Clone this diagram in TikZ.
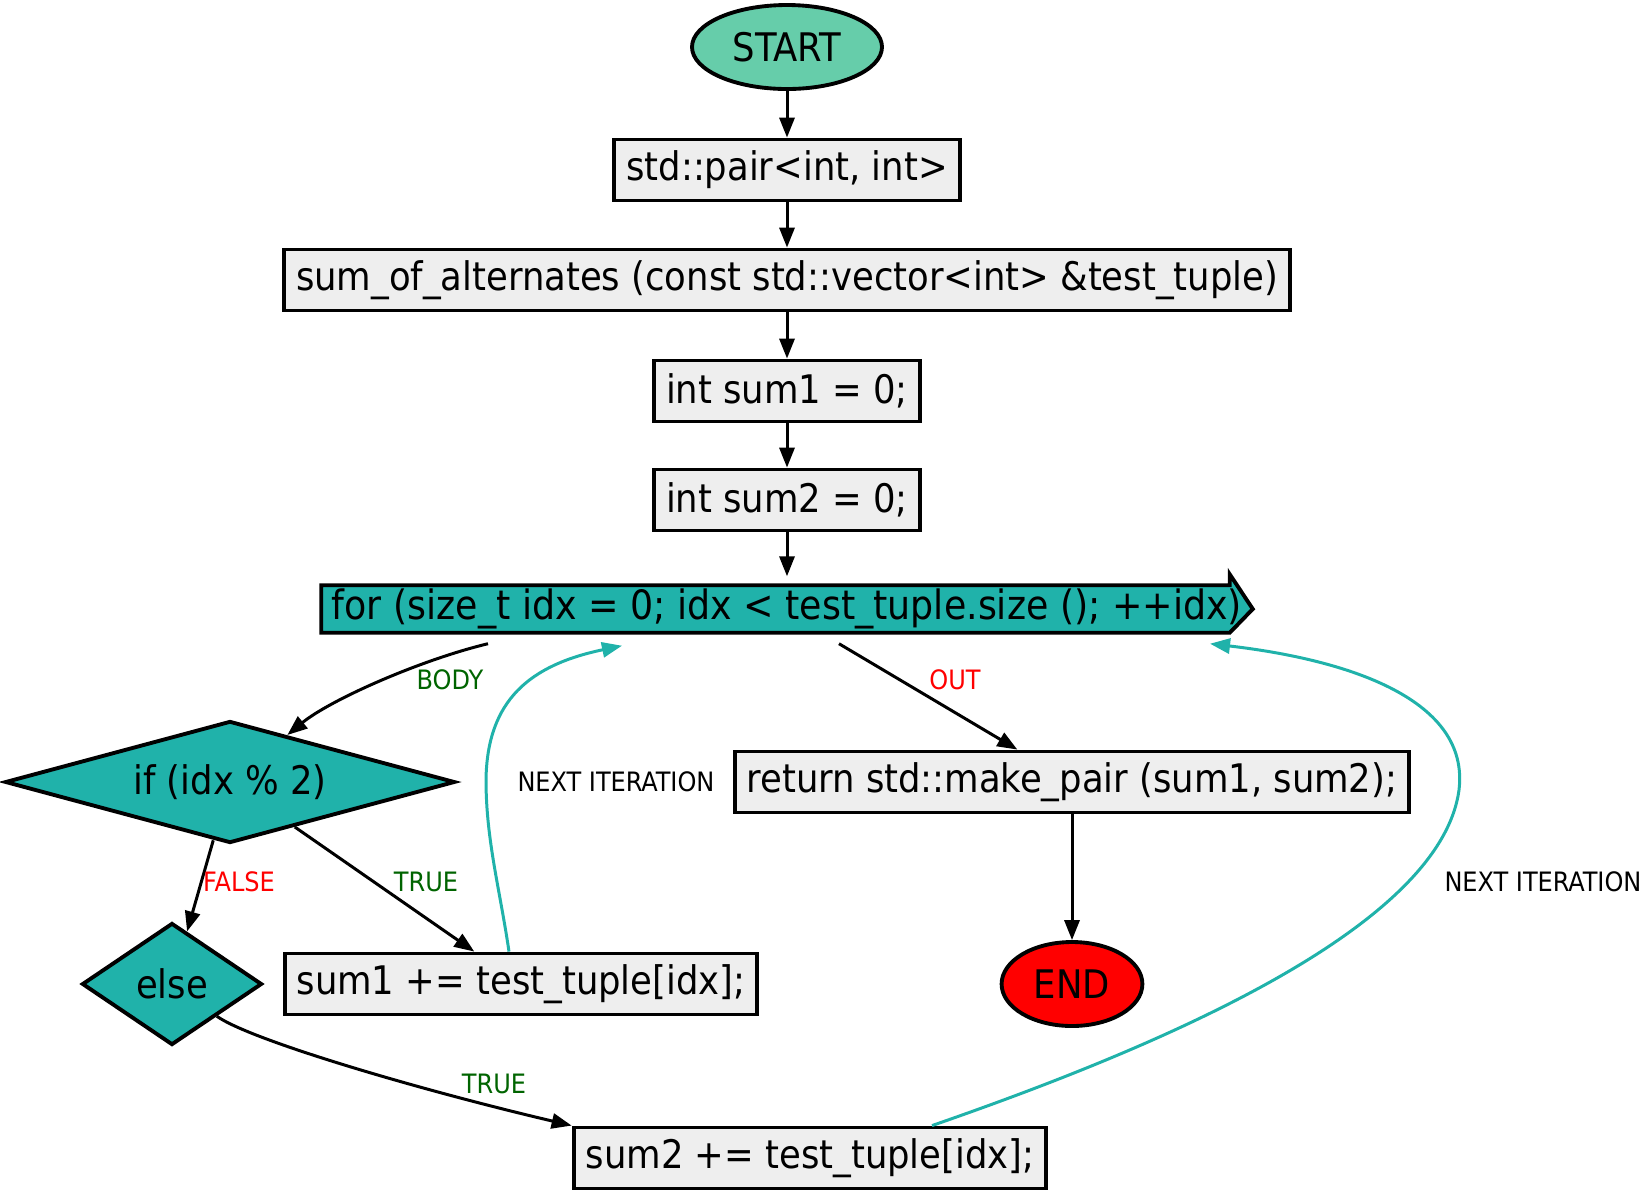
\documentclass[tikz,border=0pt]{standalone}
\usepackage{fontspec}
\setmainfont{DejaVu Sans Condensed}
\usetikzlibrary{shapes.geometric,arrows.meta,calc,backgrounds}
\definecolor{boxgray}{HTML}{EEEEEE}
\definecolor{seagreen}{HTML}{20B2AA}
\definecolor{aquagreen}{HTML}{66CDAA}
\definecolor{darkgreen}{HTML}{006400}

\begin{document}
\begin{tikzpicture}[x=0.1mm, y=-0.1mm,
		box/.style={draw, line width=1.1pt, fill=boxgray, minimum height=0.61cm, inner xsep=0.12cm, inner ysep=0pt, font=\fontsize{11.2}{13}\selectfont},
		cond/.style={diamond, draw, line width=1.1pt, fill=seagreen, inner sep=0pt, font=\fontsize{11.2}{13}\selectfont},
		term/.style={ellipse, draw, line width=1.1pt, minimum height=0.84cm, font=\fontsize{11.2}{13}\selectfont},
		lbl/.style={font=\fontsize{7.6}{9}\selectfont, inner sep=1pt},
		flow/.style={line width=0.85pt, -{Triangle[length=5.7pt, width=4.3pt]}},
		loopback/.style={flow, seagreen}]
		
		\useasboundingbox (0,0) rectangle (1652,1193);
		
		% main column
		\node[term, fill=aquagreen, minimum width=1.9cm] (start) at (787,47) {START};
		\node[box] (pair) at (787,170) {std::pair<int, int>};
		\node[box] (soa) at (787,280) {sum\_of\_alternates (const std::vector<int> \&test\_tuple)};
		\node[box] (sumone) at (787,391) {int sum1 = 0;};
		\node[box] (sumtwo) at (787,500) {int sum2 = 0;};
		\node[font=\fontsize{11.5}{13}\selectfont, minimum height=0.46cm, inner xsep=0.1cm, inner ysep=0pt] (forloop) at (787,609) {for (size\_t idx = 0; idx < test\_tuple.size (); ++idx)};
		\begin{pgfonlayer}{background}
			\filldraw[fill=seagreen, line width=1.1pt] (forloop.south west) -- (forloop.north west) -- ($(forloop.north east)+(-23,0)$) -- ++(0,-11) -- (forloop.east) -- ($(forloop.south east)+(-23,0)$) -- cycle;
		\end{pgfonlayer}
		
		% loop body
		\node[cond, aspect=3.69, minimum width=4.5cm, minimum height=1.22cm] (ifc) at (230,782) {if (idx \% 2)};
		\node[cond, aspect=1.48, minimum width=1.8cm, minimum height=1.22cm] (elsec) at (172,984) {else};
		\node[box] (addone) at (521,984) {sum1 += test\_tuple[idx];};
		\node[box] (addtwo) at (810,1158) {sum2 += test\_tuple[idx];};
		
		% exit
		\node[box] (ret) at (1072,782) {return std::make\_pair (sum1, sum2);};
		\node[term, fill=red, minimum width=1.38cm] (finish) at (1072,984) {END};
		
		\draw[flow] (start) -- (pair);
		\draw[flow] (pair) -- (soa);
		\draw[flow] (soa) -- (sumone);
		\draw[flow] (sumone) -- (sumtwo);
		\draw[flow] (sumtwo) -- ($(forloop.north)+(0,-9)$);
		
		\draw[flow] ($(forloop.south)+(-299,11)$) .. controls (420,660) and (330,700) .. (ifc);
		\draw[flow] ($(forloop.south)+(52,11)$) -- (ret);
		\draw[flow] (ret) -- (finish);
		\draw[flow] (ifc) -- (elsec);
		\draw[flow] (ifc) -- (addone);
		\draw[flow] (elsec) .. controls (250,1040) and (420,1090) .. (addtwo.north west);
		
		\draw[loopback] ($(addone.north)+(-12,0)$) .. controls (500,890) and (486,840) .. (486,780) .. controls (487,700) and (530,665) .. ($(forloop.south)+(-165,13)$);
		\draw[loopback] ($(addtwo.north)+(122,0)$) .. controls (1150,1050) and (1440,930) .. (1459,790) .. controls (1470,700) and (1350,660) .. ($(forloop.south)+(423,11)$);
		
		\node[lbl, text=darkgreen] (bodylbl) at (450,680) {BODY};
		\node[lbl, text=red] (outlbl) at (955,680) {OUT};
		\node[lbl] (nextone) at (616,782) {NEXT ITERATION};
		\node[lbl, text=red] (falselbl) at (239,882) {FALSE};
		\node[lbl, text=darkgreen] (trueone) at (426,882) {TRUE};
		\node[lbl, text=darkgreen] (truetwo) at (494,1084) {TRUE};
		\node[lbl] (nexttwo) at (1543,882) {NEXT ITERATION};
		
	\end{tikzpicture}
\end{document}
